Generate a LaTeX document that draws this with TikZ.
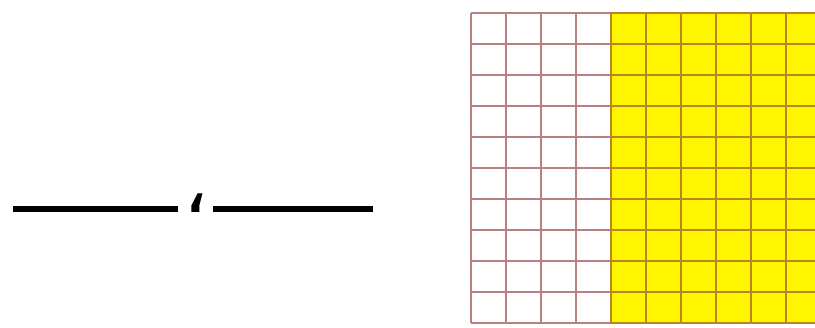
\documentclass[tikz,border=0pt]{standalone}
\usepackage{fontspec}
\newfontfamily\arabicfont[Script=Arabic]{DejaVu Sans}
\TeXXeTstate=1
\definecolor{gridline}{rgb}{0.72,0.50,0.50}
\definecolor{gridlinedark}{rgb}{0.72,0.52,0.12}
\definecolor{cellyellow}{rgb}{1,0.96,0}
\tikzset{
  blankline/.style={line width=5.5pt, black},
  gridpen/.style={line width=1.4pt, gridline},
  gridpendark/.style={line width=1.4pt, gridlinedark}
}
\begin{document}
\begin{tikzpicture}[x=1pt,y=-1pt]
\useasboundingbox (0,0) rectangle (815,328);
\clip (0,0) rectangle (815,328);
\fill[white] (0,0) rectangle (815,328);
% blanks with Arabic comma
\draw[blankline] (13,209) -- (178,209);
\draw[blankline] (213,209) -- (373,209);
\node[inner sep=0pt, anchor=base] (comma) at (196,212.5) {\fontsize{78}{90}\selectfont\arabicfont\beginR ،\endR};
% grid
\fill[cellyellow] (611,13) rectangle (821,323);
\foreach \i in {0,...,4} {
  \draw[gridpen] (471+35*\i,13) -- (471+35*\i,323);
}
\foreach \j in {0,...,10} {
  \draw[gridpen] (471,13+31*\j) -- (611,13+31*\j);
  \draw[gridpendark] (611,13+31*\j) -- (821,13+31*\j);
}
\foreach \i in {4,...,10} {
  \draw[gridpendark] (471+35*\i,13) -- (471+35*\i,323);
}
\end{tikzpicture}
\end{document}
